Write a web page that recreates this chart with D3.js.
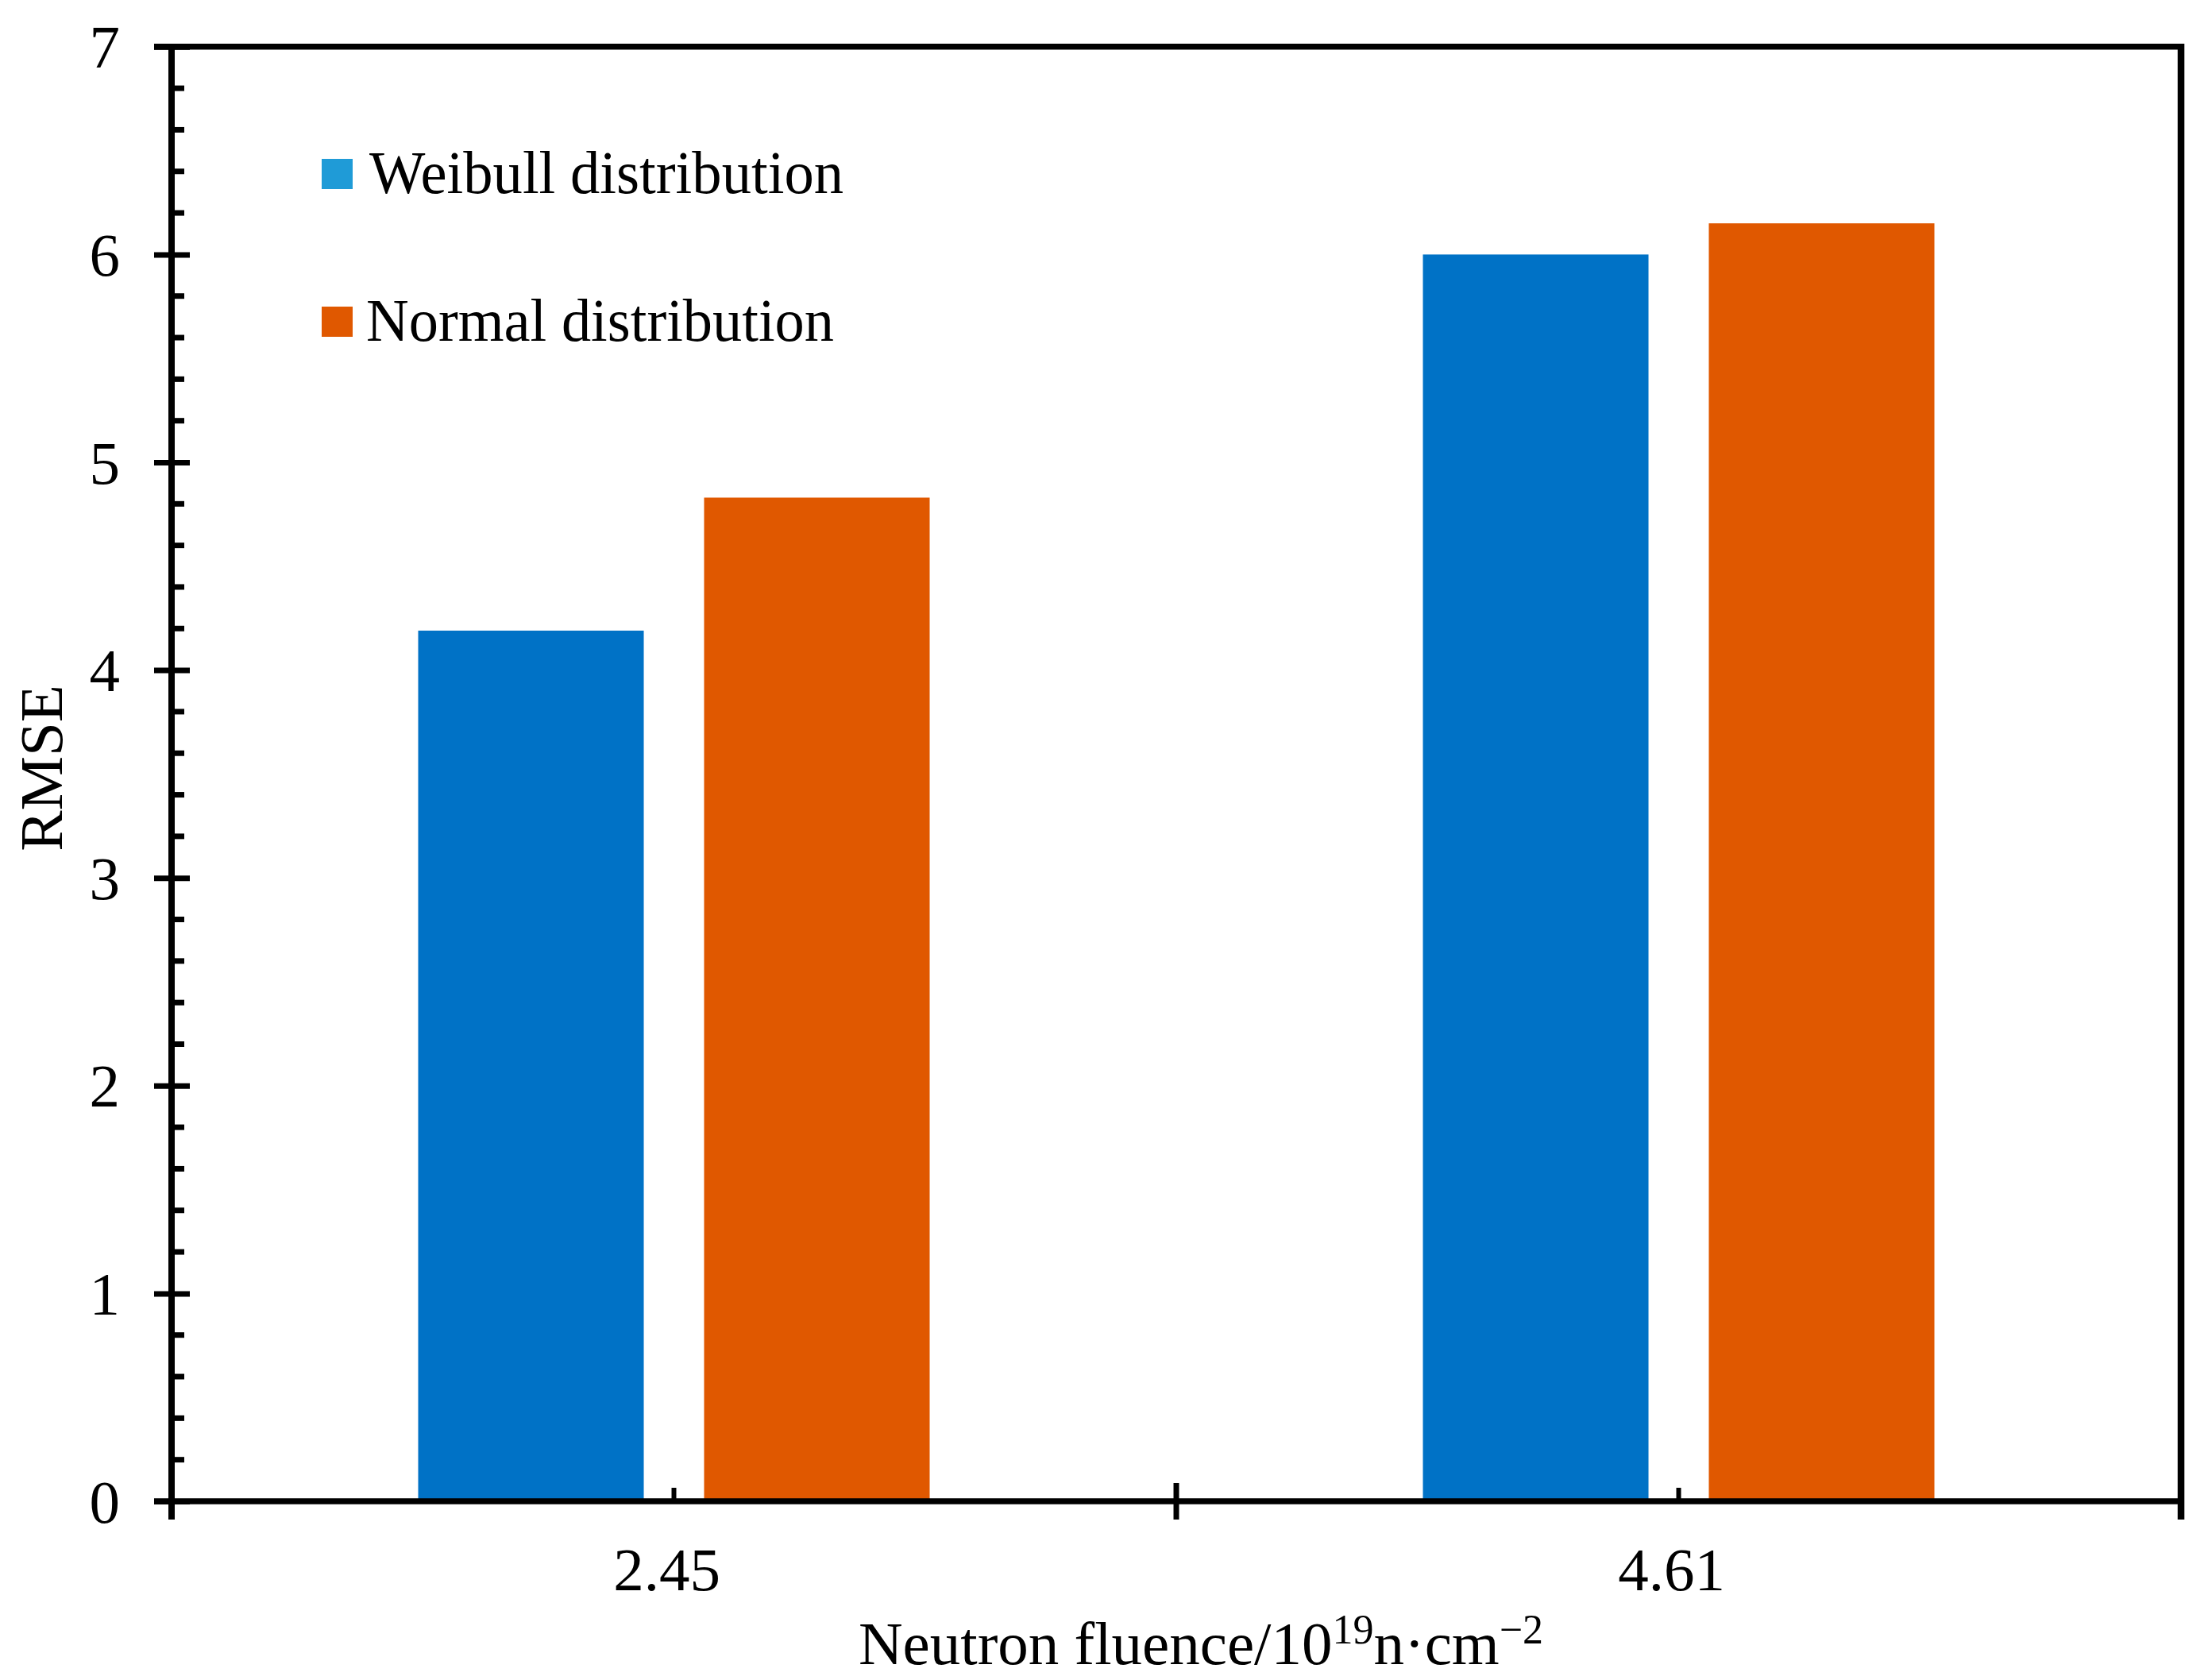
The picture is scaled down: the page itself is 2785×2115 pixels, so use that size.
<!DOCTYPE html>
<html>
<head>
<meta charset="utf-8">
<script src="https://cdn.jsdelivr.net/npm/d3@7"></script>
<style>
  html, body { margin: 0; padding: 0; background: #fff; }
  svg text { font-family: "Liberation Serif", "Times New Roman", serif; fill: #000; }
</style>
</head>
<body>
<svg id="chart" width="2785" height="2115"></svg>
<script>
// ---- data ----
const categories = ["2.45", "4.61"];
const seriesNames = ["Weibull distribution", "Normal distribution"];
const weibullValues = [4.19, 6.00];
const normalValues = [4.83, 6.15];
const yTickValues = [0, 1, 2, 3, 4, 5, 6, 7];

(function () {
// ---- styles ----
const barColors = ["#0072C6", "#E05800"];
const legendColors = ["#1F9BD7", "#E05800"];
const axisW = 7.5;
const fontSize = 77;

const svg = d3.select("#chart");
const pL = 216, pR = 2746, pT = 58.8, pB = 1890;

const x = d3.scaleBand().domain(categories).range([pL, pR]).padding(0);
const y = d3.scaleLinear().domain([0, 7]).range([pB, pT]);
const bw = x.bandwidth();
const xi = d3.scaleBand().domain(seriesNames).range([bw / 2 - 322, bw / 2 + 322]).paddingInner(0.211).paddingOuter(0);

const seriesValues = [weibullValues, normalValues];
const rows = [];
categories.forEach((c, ci) => seriesNames.forEach((s, si) => rows.push({c, s, si, v: seriesValues[si][ci]})));

// bars
svg.append("g").selectAll("rect").data(rows).join("rect")
  .attr("x", d => x(d.c) + xi(d.s))
  .attr("width", xi.bandwidth())
  .attr("y", d => y(d.v))
  .attr("height", d => y(0) - y(d.v))
  .attr("fill", d => barColors[d.si]);

// frame top & right
svg.append("line").attr("x1", pL - 22).attr("x2", pR).attr("y1", pT).attr("y2", pT)
  .attr("stroke", "#000").attr("stroke-width", axisW);
svg.append("line").attr("x1", pR).attr("x2", pR).attr("y1", pT - axisW / 2).attr("y2", pB + 23)
  .attr("stroke", "#000").attr("stroke-width", axisW + 1);

// y axis
const gy = svg.append("g").attr("transform", `translate(${pL},0)`)
  .call(d3.axisLeft(y).tickValues(yTickValues).tickFormat(d3.format("d")).tickSizeOuter(0));
gy.select(".domain").remove();
gy.selectAll(".tick line").attr("x1", -22).attr("x2", 23).attr("stroke", "#000").attr("stroke-width", 7);
gy.selectAll(".tick text").attr("x", -65).attr("font-size", fontSize).attr("dy", "0.34em")
  .style("font-family", '"Liberation Serif", serif');
// minor ticks
const minor = d3.range(0, 35).map(i => i / 5).filter(v => Math.abs(v - Math.round(v)) > 1e-6);
svg.append("g").selectAll("line").data(minor).join("line")
  .attr("x1", pL).attr("x2", pL + 16)
  .attr("y1", d => y(d)).attr("y2", d => y(d))
  .attr("stroke", "#000").attr("stroke-width", 7);
svg.append("line").attr("x1", pL).attr("x2", pL).attr("y1", pT - axisW / 2).attr("y2", pB + 23)
  .attr("stroke", "#000").attr("stroke-width", axisW + 0.5);

// x axis
const gx = svg.append("g").attr("transform", `translate(0,${pB})`)
  .call(d3.axisBottom(x).tickSize(0).tickSizeOuter(0));
gx.select(".domain").remove();
gx.selectAll(".tick line").remove();
gx.selectAll(".tick text").attr("font-size", fontSize).attr("dy", 0).attr("y", 112).attr("x", -9)
  .style("font-family", '"Liberation Serif", serif');
svg.append("line").attr("x1", pL - 22).attr("x2", pR).attr("y1", pB).attr("y2", pB)
  .attr("stroke", "#000").attr("stroke-width", axisW);
// boundary ticks (crossing)
const bounds = [x(categories[1])];
svg.append("g").selectAll("line").data(bounds).join("line")
  .attr("x1", d => d).attr("x2", d => d).attr("y1", pB - 23).attr("y2", pB + 23)
  .attr("stroke", "#000").attr("stroke-width", 7);
// category centre ticks (inside)
svg.append("g").selectAll("line").data(categories).join("line")
  .attr("x1", d => x(d) + bw / 2).attr("x2", d => x(d) + bw / 2).attr("y1", pB - 17).attr("y2", pB)
  .attr("stroke", "#000").attr("stroke-width", 6);

// axis titles
svg.append("text").attr("transform", `translate(78,967) rotate(-90)`)
  .attr("text-anchor", "middle").attr("font-size", fontSize).text("RMSE");

const xt = svg.append("text").attr("x", 1512).attr("y", 2095).attr("text-anchor", "middle").attr("font-size", fontSize);
xt.append("tspan").text("Neutron fluence/10");
xt.append("tspan").attr("font-size", 52).attr("dy", -26).text("19");
xt.append("tspan").attr("dy", 26).text("n·cm");
xt.append("tspan").attr("font-size", 52).attr("dy", -26).text("−2");

// legend
const legY = [219, 405];
const legLen = [597, 589];
const lg = svg.append("g").selectAll("g").data(seriesNames).join("g");
lg.append("rect").attr("x", 405).attr("y", (d, i) => legY[i] - 19).attr("width", 39).attr("height", 38)
  .attr("fill", (d, i) => legendColors[i]);
lg.append("text").attr("x", (d, i) => i === 0 ? 465 : 461).attr("y", (d, i) => legY[i] + 24)
  .attr("font-size", fontSize).attr("textLength", (d, i) => legLen[i]).attr("lengthAdjust", "spacingAndGlyphs")
  .text(d => d);
})();
</script>
</body>
</html>
